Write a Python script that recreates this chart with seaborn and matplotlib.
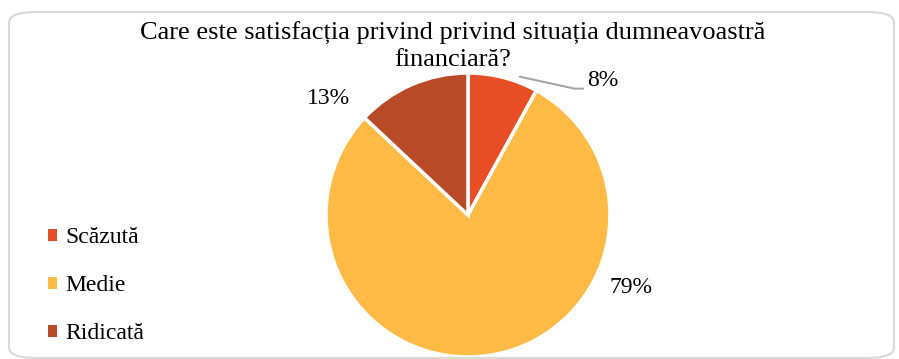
import matplotlib.pyplot as plt
import seaborn as sns
import numpy as np
from matplotlib.patches import FancyBboxPatch, Patch

# data
categories = ['Scăzută', 'Medie', 'Ridicată']
values = [8, 79, 13]
colors = ['#E84E25', '#FFBB46', '#B84A27']
title = 'Care este satisfacția privind privind situația dumneavoastră\nfinanciară?'

sns.set_theme(style='white')
plt.rcParams['font.family'] = ['Liberation Serif', 'DejaVu Serif']
plt.rcParams['text.color'] = 'black'

fig = plt.figure(figsize=(8.99, 3.59), dpi=100, facecolor='white')

# rounded chart border
border = FancyBboxPatch((9 / 899, 1 / 359), 885 / 899, 346 / 359,
                        boxstyle='round,pad=0,rounding_size=0.03',
                        transform=fig.transFigure, facecolor='none',
                        edgecolor='#D9D9D9', linewidth=1.5, zorder=0)
fig.patches.append(border)

ax = fig.add_axes([326 / 899, 2 / 359, 284 / 899, 284 / 359])
wedges, _ = ax.pie(values, colors=colors, startangle=90, counterclock=False,
                   radius=1, wedgeprops=dict(edgecolor='white', linewidth=2.5))
ax.set_xlim(-1, 1)
ax.set_ylim(-1, 1)
ax.set_aspect('equal')
ax.axis('off')

# percentage labels (radius, angle in degrees) chosen like Excel's best fit
label_pos = [(1.34, 44.8), (1.26, -24.0), (1.28, 140.0)]
for v, (r, a) in zip(values, label_pos):
    t = np.deg2rad(a)
    ax.text(r * np.cos(t), r * np.sin(t), f'{v}%', ha='center', va='center',
            fontsize=17, color='black', clip_on=False)

# leader line for the small slice
ax.plot([1.04 * np.cos(np.deg2rad(69.5)), 0.75, 0.81],
        [1.04 * np.sin(np.deg2rad(69.5)), 0.89, 0.89],
        color='#A6A6A6', linewidth=1.5, clip_on=False)

# title, one text per line so the short second line keeps a tight box
for i, line in enumerate(title.split('\n')):
    fig.text(0.504, 0.908 - i * 0.0765, line, ha='center', va='center',
             fontsize=19, color='black')

handles = [Patch(facecolor=c, edgecolor='none') for c in colors]
leg = fig.legend(handles, categories, loc='center left', bbox_to_anchor=(0.035, 0.204),
                 frameon=False, fontsize=17, handlelength=0.4, handleheight=0.4,
                 handletextpad=0.35, labelspacing=1.15, borderpad=0.2)
for t in leg.get_texts():
    t.set_color('black')

fig.savefig('out.png', dpi=100)
